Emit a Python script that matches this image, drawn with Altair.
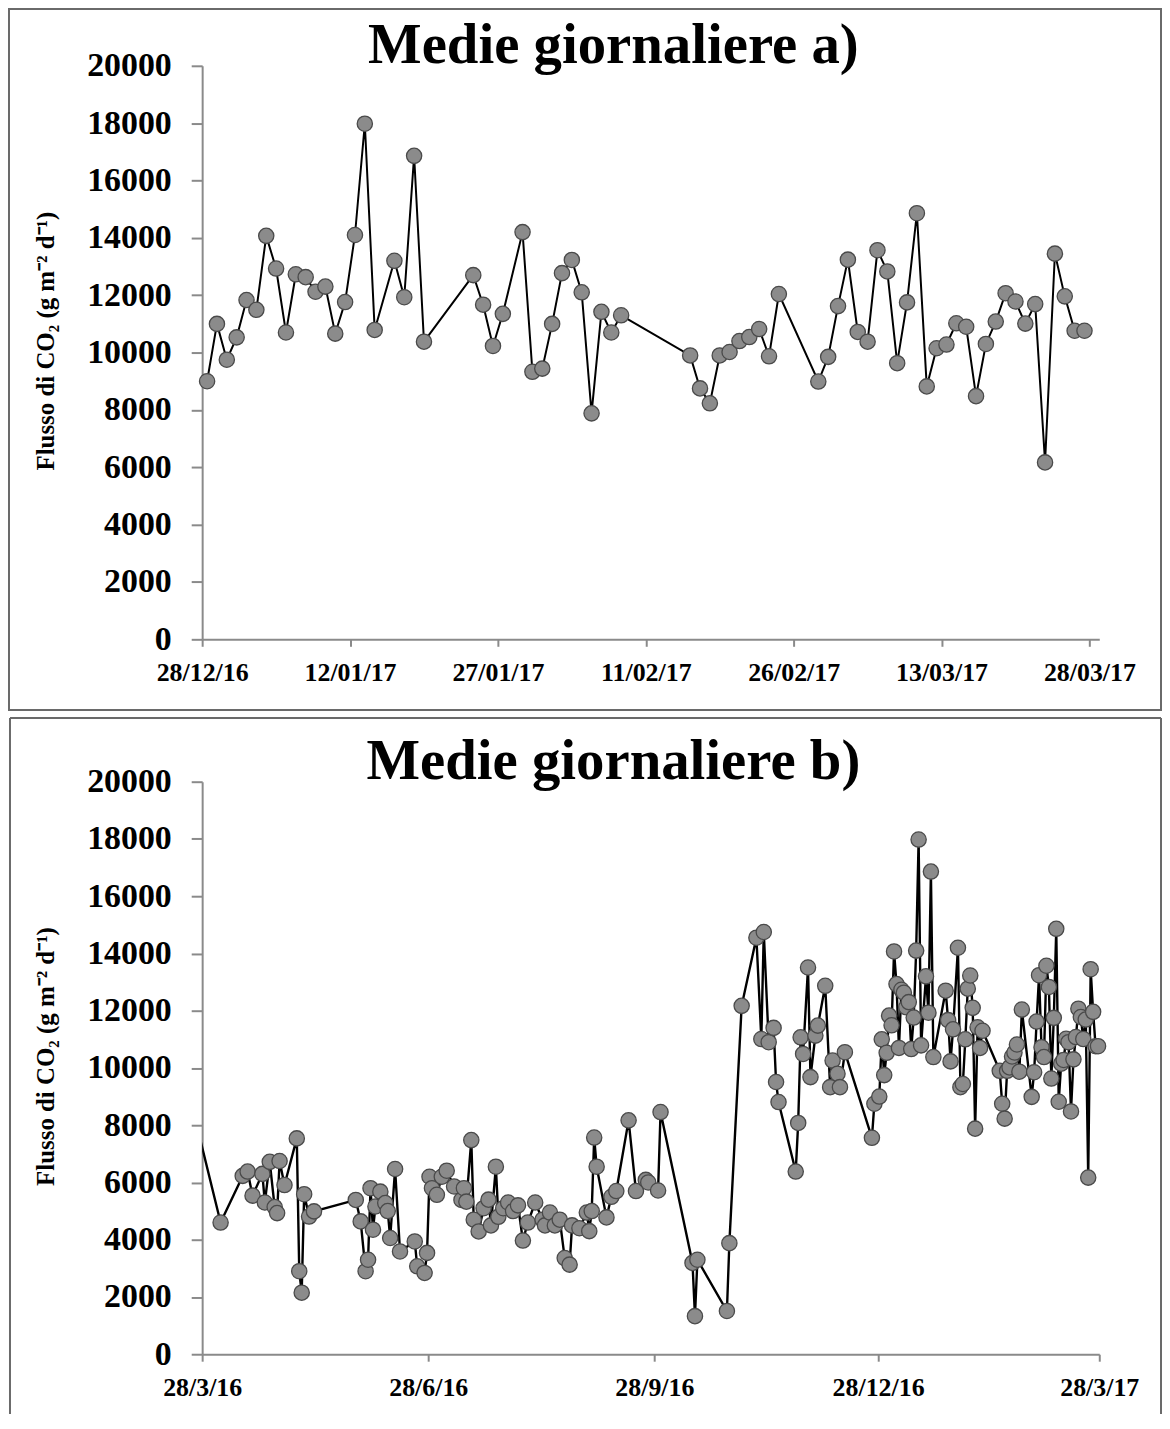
import altair as alt
import pandas as pd

# ---------------- Panel a) : 28/12/2016 - 27/03/2017 ----------------
dates_a = [
    "2016-12-28", "2016-12-29", "2016-12-30", "2016-12-31", "2017-01-01", "2017-01-02",
    "2017-01-03", "2017-01-04", "2017-01-05", "2017-01-06", "2017-01-07", "2017-01-08",
    "2017-01-09", "2017-01-10", "2017-01-11", "2017-01-12", "2017-01-13", "2017-01-14",
    "2017-01-16", "2017-01-17", "2017-01-18", "2017-01-19", "2017-01-24", "2017-01-25",
    "2017-01-26", "2017-01-27", "2017-01-29", "2017-01-30", "2017-01-31", "2017-02-01",
    "2017-02-02", "2017-02-03", "2017-02-04", "2017-02-05", "2017-02-06", "2017-02-07",
    "2017-02-08", "2017-02-15", "2017-02-16", "2017-02-17", "2017-02-18", "2017-02-19",
    "2017-02-20", "2017-02-21", "2017-02-22", "2017-02-23", "2017-02-24", "2017-02-28",
    "2017-03-01", "2017-03-02", "2017-03-03", "2017-03-04", "2017-03-05", "2017-03-06",
    "2017-03-07", "2017-03-08", "2017-03-09", "2017-03-10", "2017-03-11", "2017-03-12",
    "2017-03-13", "2017-03-14", "2017-03-15", "2017-03-16", "2017-03-17", "2017-03-18",
    "2017-03-19", "2017-03-20", "2017-03-21", "2017-03-22", "2017-03-23", "2017-03-24",
    "2017-03-25", "2017-03-26", "2017-03-27",
]
flux_a = [
    9000, 11000, 9750, 10530, 11830, 11490,
    14070, 12930, 10700, 12730, 12630, 12120,
    12300, 10660, 11760, 14100, 17980, 10790,
    13200, 11930, 16860, 10380, 12700, 11670,
    10230, 11350, 14200, 9330, 9440, 11000,
    12770, 13230, 12100, 7880, 11420, 10700,
    11300, 9900, 8750, 8230, 9900, 10020,
    10400, 10540, 10820, 9870, 12040, 8990,
    9850, 11620, 13240, 10720, 10380, 13570,
    12830, 9630, 11750, 14860, 8820, 10150,
    10280, 11020, 10900, 8480, 10300, 11080,
    12070, 11780, 11010, 11690, 6170, 13450,
    11960, 10760, 10760,
]

# ---------------- Panel b) : 28/3/2016 - 28/3/2017 (earlier part; continues with panel a) ----------------
dates_b_early = [
    "2016-03-27",
    "2016-04-04", "2016-04-13", "2016-04-15", "2016-04-17", "2016-04-21", "2016-04-22",
    "2016-04-24", "2016-04-26", "2016-04-27", "2016-04-28", "2016-04-30", "2016-05-05",
    "2016-05-06", "2016-05-07", "2016-05-08", "2016-05-10", "2016-05-12", "2016-05-29",
    "2016-05-31", "2016-06-02", "2016-06-03", "2016-06-04", "2016-06-05", "2016-06-06",
    "2016-06-08", "2016-06-10", "2016-06-11", "2016-06-12", "2016-06-14", "2016-06-16",
    "2016-06-22", "2016-06-23", "2016-06-26", "2016-06-27", "2016-06-28", "2016-06-29",
    "2016-07-01", "2016-07-03", "2016-07-05", "2016-07-08", "2016-07-11", "2016-07-12",
    "2016-07-13", "2016-07-15", "2016-07-16", "2016-07-18", "2016-07-20", "2016-07-22",
    "2016-07-23", "2016-07-25", "2016-07-26", "2016-07-28", "2016-07-30", "2016-08-01",
    "2016-08-03", "2016-08-05", "2016-08-07", "2016-08-10", "2016-08-13", "2016-08-14",
    "2016-08-16", "2016-08-18", "2016-08-20", "2016-08-22", "2016-08-24", "2016-08-25",
    "2016-08-28", "2016-08-31", "2016-09-01", "2016-09-02", "2016-09-03", "2016-09-04",
    "2016-09-08", "2016-09-10", "2016-09-12", "2016-09-17", "2016-09-20", "2016-09-24",
    "2016-09-25", "2016-09-29", "2016-09-30", "2016-10-13", "2016-10-14", "2016-10-15",
    "2016-10-27", "2016-10-28", "2016-11-02", "2016-11-08", "2016-11-10", "2016-11-11",
    "2016-11-13", "2016-11-15", "2016-11-16", "2016-11-17", "2016-11-24", "2016-11-25",
    "2016-11-26", "2016-11-27", "2016-11-29", "2016-11-30", "2016-12-02", "2016-12-03",
    "2016-12-06", "2016-12-08", "2016-12-09", "2016-12-11", "2016-12-12", "2016-12-14",
    "2016-12-25", "2016-12-26",
]
flux_b_early = [
    7400,
    4600, 6230, 6380, 5540, 6300, 5300,
    6720, 5140, 4930, 6750, 5910, 7540,
    2900, 2150, 5590, 4810, 4990, 5390,
    4640, 2900, 3300, 5800, 4350, 5160,
    5680, 5280, 5000, 4060, 6470, 3590,
    3940, 3070, 2840, 3540, 6200, 5800,
    5570, 6200, 6410, 5860, 5390, 5800,
    5330, 7480, 4700, 4290, 5100, 5400,
    4500, 6550, 4800, 5100, 5300, 5000,
    5200, 3970, 4600, 5300, 4700, 4500,
    4950, 4500, 4700, 3360, 3130, 4500,
    4400, 4950, 4300, 5000, 7570, 6550,
    4780, 5500, 5700, 8170, 5700, 6090,
    6000, 5720, 8460, 3190, 1330, 3300,
    1510, 3880, 12170, 14550, 11010, 14750,
    10900, 11400, 9510, 8810, 6380, 8080,
    11070, 10490, 13510, 9680, 11130, 11480,
    12870, 9330, 10260, 9800, 9330, 10550,
    7560, 8750,
]

title_a = "Medie giornaliere a)"
title_b = "Medie giornaliere b)"
y_title = "Flusso di CO\u2082 (g m\u207b\u00b2 d\u207b\u00b9)"
y_ticks = list(range(0, 20001, 2000))
ticks_a = ["2016-12-28", "2017-01-12", "2017-01-27", "2017-02-11", "2017-02-26", "2017-03-13", "2017-03-28"]
ticks_b = ["2016-03-28", "2016-06-28", "2016-09-28", "2016-12-28", "2017-03-28"]
domain_a = ["2016-12-28", "2017-03-29"]
domain_b = ["2016-03-28", "2017-03-28"]

SERIF = "Liberation Serif"


def dt(s):
    y, m, d = (int(p) for p in s.split("-"))
    return alt.DateTime(year=y, month=m, date=d, utc=True)


def frame(dates, values):
    # Excel-style date axis: each daily mean drawn in the middle of its day
    return pd.DataFrame({"date": [d + "T12:00:00Z" for d in dates], "flux": values})


def panel(df_line, df_pts, dom, ticks, fmt, title, height, box, line_w):
    x = alt.X(
        "date:T",
        scale=alt.Scale(type="utc", domain=[dt(dom[0]), dt(dom[1])]),
        axis=alt.Axis(
            values=[dt(t) for t in ticks], format=fmt, grid=False,
            labelFont=SERIF, labelFontSize=26, labelFontWeight="bold", labelColor="black",
            labelPadding=13, tickSize=7, tickColor="#8a8a8a", tickWidth=2,
            domainColor="#8a8a8a", domainWidth=2, labelOverlap=False, labelFlush=False,
        ),
        title=None,
    )
    y = alt.Y(
        "flux:Q",
        scale=alt.Scale(domain=[0, 20000], nice=False),
        axis=alt.Axis(
            values=y_ticks, format="d", grid=False,
            labelFont=SERIF, labelFontSize=34, labelFontWeight="bold", labelColor="black",
            labelPadding=20, tickSize=11, tickColor="#8a8a8a", tickWidth=2,
            domainColor="#8a8a8a", domainWidth=2,
            titleFont=SERIF, titleFontSize=25, titleFontWeight="bold", titleColor="black",
            titleAngle=270, titleX=-157, titleY=height / 2 - 12,
            titleAlign="center", titleBaseline="middle",
        ),
        title=y_title,
    )
    line = alt.Chart(df_line).mark_line(color="black", strokeWidth=line_w, clip=True).encode(x=x, y=y)
    pts = alt.Chart(df_pts).mark_point(
        filled=True, shape="circle", size=235, fill="#8b8b8b", fillOpacity=1,
        stroke="#4a4a4a", strokeWidth=1.3, opacity=1,
    ).encode(x="date:T", y="flux:Q")
    dummy = pd.DataFrame({"k": [0]})
    heading = alt.Chart(dummy).mark_text(
        text=title, font=SERIF, fontSize=57, fontWeight="bold", color="black",
        align="center", baseline="alphabetic",
    ).encode(x=alt.value(413), y=alt.value(-3))
    left, right, top, bottom = box
    if bottom is not None:
        deco = [alt.Chart(dummy).mark_rect(fillOpacity=0, stroke="#6a6a6a", strokeWidth=2).encode(
            x=alt.value(left), x2=alt.value(right), y=alt.value(top), y2=alt.value(bottom)
        )]
    else:
        r_top = alt.Chart(dummy).mark_rule(color="#6a6a6a", strokeWidth=2).encode(
            x=alt.value(left), x2=alt.value(right), y=alt.value(top)
        )
        r_left = alt.Chart(dummy).mark_rule(color="#6a6a6a", strokeWidth=2).encode(
            x=alt.value(left), y=alt.value(top), y2=alt.value(height + 60)
        )
        r_right = alt.Chart(dummy).mark_rule(color="#6a6a6a", strokeWidth=2).encode(
            x=alt.value(right), y=alt.value(top), y2=alt.value(height + 60)
        )
        deco = [r_top, r_left, r_right]
    return alt.layer(*deco, heading, line, pts).properties(width=901, height=height)


df_a = frame(dates_a, flux_a)
df_b_line = frame(dates_b_early + dates_a, flux_b_early + flux_a)
df_b_pts = frame(dates_b_early[1:] + dates_a, flux_b_early[1:] + flux_a)

top = panel(df_a, df_a, domain_a, ticks_a, "%d/%m/%y", title_a, 576, (-194, 963, -57, 647), 2)
bottom = panel(df_b_line, df_b_pts, domain_b, ticks_b, "%-d/%-m/%y", title_b, 575, (-193, 963, -64, None), 2.4)

chart = (
    alt.vconcat(top, bottom, spacing=6)
    .properties(padding={"left": 0, "top": -3, "right": 0, "bottom": 0})
    .configure(background="white")
    .configure_view(stroke="transparent", strokeWidth=0)
)

chart.save("out.html", embed_options={"renderer": "svg", "actions": False})
